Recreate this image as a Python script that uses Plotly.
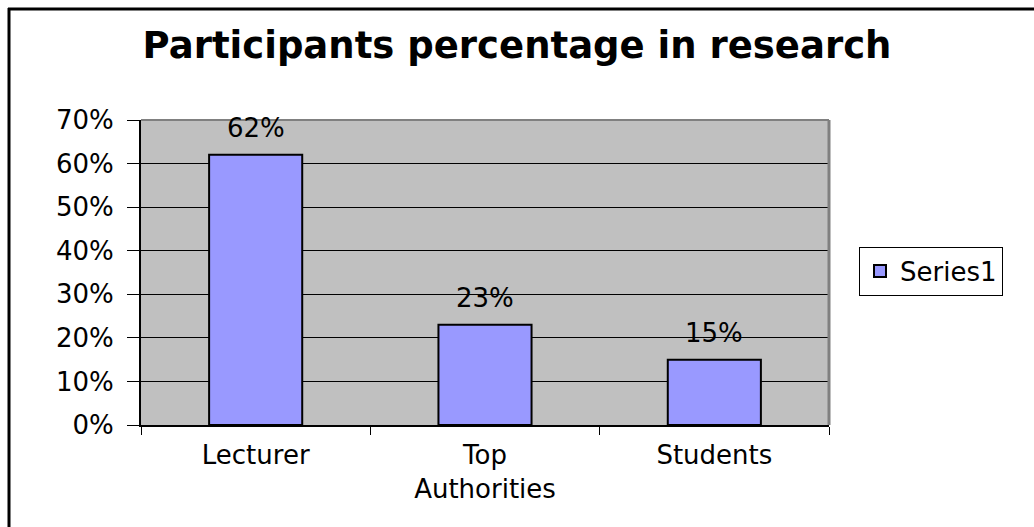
import plotly.graph_objects as go

categories = ["Lecturer", "Top<br>Authorities", "Students"]
values = [0.62, 0.23, 0.15]
labels = ["62%", "23%", "15%"]
series_name = "Series1"
title_text = "Participants percentage in research"

FONT = "DejaVu Sans"
FS = 26

fig = go.Figure()
fig.add_trace(go.Bar(
    x=categories, y=values, name=series_name,
    marker=dict(color="#9999FF", line=dict(color="black", width=2)),
    showlegend=True,
))

for c, v, t in zip(categories, values, labels):
    fig.add_annotation(x=c, y=v, text=t, showarrow=False, yanchor="bottom",
                       yshift=10, font=dict(family=FONT, size=FS, color="black"))

W, H = 1034, 527
L, R, T, B = 141, 1034 - 829, 120, 527 - 425
pw, ph = W - L - R, H - T - B

def px(x):
    return (x - L) / pw

def py(y):
    return (H - B - y) / ph

shapes = [
    dict(type="line", xref="paper", yref="paper", x0=0, x1=1, y0=1, y1=1,
         line=dict(color="#808080", width=2), layer="above"),
    dict(type="line", xref="paper", yref="paper", x0=1, x1=1, y0=0, y1=1,
         line=dict(color="#808080", width=3), layer="above"),
    dict(type="line", xref="paper", yref="paper", x0=px(8), x1=px(1040), y0=py(9), y1=py(9),
         line=dict(color="black", width=3)),
    dict(type="line", xref="paper", yref="paper", x0=px(9), x1=px(9), y0=py(8), y1=py(540),
         line=dict(color="black", width=3)),
]

fig.update_layout(
    width=W, height=H,
    margin=dict(l=L, r=R, t=T, b=B, pad=0),
    paper_bgcolor="white",
    plot_bgcolor="#C0C0C0",
    font=dict(family=FONT, size=FS, color="black"),
    title=dict(text="<b>" + title_text + "</b>", x=0.5, xref="container", xanchor="center",
               y=1 - 45 / H, yref="container", yanchor="middle",
               font=dict(family=FONT, size=37, color="black")),
    bargap=0.594,
    legend=dict(x=px(859), y=py(271), xanchor="left", yanchor="middle",
                bordercolor="black", borderwidth=1, bgcolor="white",
                font=dict(family=FONT, size=FS, color="black")),
    shapes=shapes,
)

fig.update_xaxes(showline=True, linecolor="black", linewidth=2,
                 ticks="outside", tickson="boundaries", ticklen=8, tickcolor="black", tickwidth=1,
                 showgrid=False, ticklabelstandoff=6,
                 tickfont=dict(family=FONT, size=FS, color="black"))
fig.update_yaxes(range=[0, 0.7], dtick=0.1, tick0=0, tickformat=".0%",
                 showline=True, linecolor="black", linewidth=2,
                 showgrid=True, gridcolor="black", gridwidth=1, zeroline=False,
                 ticks="outside", ticklen=12, tickcolor="black", tickwidth=1,
                 ticklabelstandoff=8,
                 tickfont=dict(family=FONT, size=FS, color="black"))

fig.write_html("out.html")
